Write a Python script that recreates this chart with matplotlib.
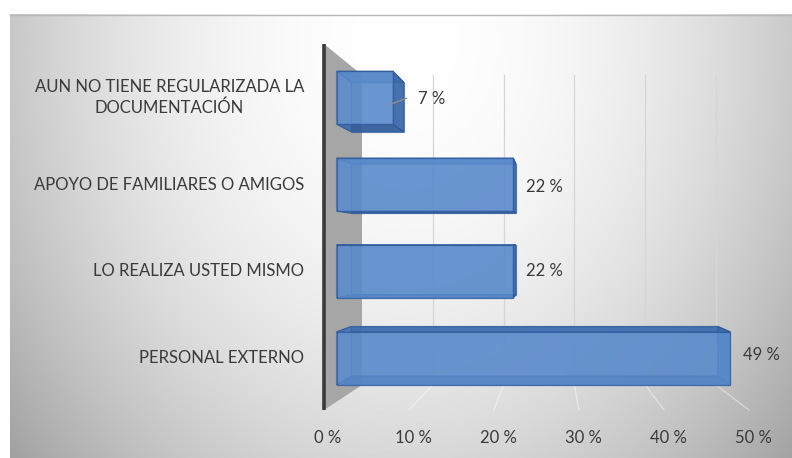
import numpy as np
import matplotlib.pyplot as plt
from matplotlib.patches import Polygon

# datos
categorias = [
    "AUN NO TIENE REGULARIZADA LA\nDOCUMENTACIÓN",
    "APOYO DE FAMILIARES O AMIGOS",
    "LO REALIZA USTED MISMO",
    "PERSONAL EXTERNO",
]
valores = [7, 22, 22, 49]
ticks = [0, 10, 20, 30, 40, 50]
tick_labels = ["0 %", "10 %", "20 %", "30 %", "40 %", "50 %"]

# marco en perspectiva (pixeles): frente z=0, fondo z=1
X_FRENTE, X_FONDO = 324, 362
ESC_FRENTE, ESC_FONDO = 8.5, 7.08
SUP_FRENTE, SUP_FONDO = 44, 75
INF_FRENTE, INF_FONDO = 410, 385
Z_BARRA = (0.33, 0.72)
MEDIA_ALTURA = 0.076

TXT = "#3a3a3a"
FUENTE = "Lato"
TAM = 12


def proyectar(x, t, z):
    x0 = X_FRENTE + (X_FONDO - X_FRENTE) * z
    esc = ESC_FRENTE + (ESC_FONDO - ESC_FRENTE) * z
    sup = SUP_FRENTE + (SUP_FONDO - SUP_FRENTE) * z
    inf = INF_FRENTE + (INF_FONDO - INF_FRENTE) * z
    return x0 + x * esc, sup + t * (inf - sup)


fig = plt.figure(figsize=(7.92, 4.58), dpi=100)
ax = fig.add_axes([0, 0, 1, 1])
ax.set_xlim(0, 792)
ax.set_ylim(458, 0)
ax.axis("off")

# fondo con degradado radial
xx, yy = np.meshgrid(np.linspace(10, 792, 400), np.linspace(14, 458, 240))
r2 = ((xx - 405) / 400) ** 2 + ((yy - 40) / 500) ** 2
gris = np.clip(1 - 0.22 * r2, 0, 1)
ax.imshow(np.dstack([gris] * 3), extent=(10, 792, 458, 14), aspect="auto", zorder=0)
ax.plot([10, 792], [14.5, 14.5], color="#b8b8b8", lw=1, zorder=1)

# pared lateral
pared = [proyectar(0, 0, 0), proyectar(0, 0, 1), proyectar(0, 1, 1), proyectar(0, 1, 0)]
ax.add_patch(Polygon(pared, closed=True, fc="#a6a6a6", ec="none", zorder=1))

# lineas de division
for tk in ticks[1:]:
    x1, y1 = proyectar(tk, 0, 1)
    x2, y2 = proyectar(tk, 1, 1)
    ax.plot([x1, x2], [y1, y2], color="#d6d6d6", lw=0.9, zorder=1)
    x3, y3 = proyectar(tk, 1, 0)
    ax.plot([x2, x3], [y2, y3], color="white", lw=0.9, alpha=0.45, zorder=1)

# eje vertical
xa, ya = proyectar(0, 0, 0)
xb, yb = proyectar(0, 1, 0)
ax.plot([xa, xb], [ya, yb], color="#3a3a3a", lw=2.6, solid_capstyle="butt", zorder=2)

# barras 3D
n = len(valores)
z0, z1 = Z_BARRA
for i, (cat, v) in enumerate(zip(categorias, valores)):
    tc = (i + 0.5) / n
    t0, t1 = tc - MEDIA_ALTURA, tc + MEDIA_ALTURA
    caras = [
        ([(0, t0, z1), (v, t0, z1), (v, t1, z1), (0, t1, z1)], "#3d6cae", 0.55),
        ([(0, t1, z0), (v, t1, z0), (v, t1, z1), (0, t1, z1)], "#2f5a98", 0.85),
        ([(0, t0, z0), (v, t0, z0), (v, t0, z1), (0, t0, z1)], "#3f6db0", 0.85),
        ([(0, t0, z0), (0, t0, z1), (0, t1, z1), (0, t1, z0)], "#4a7bbd", 0.5),
        ([(v, t0, z0), (v, t0, z1), (v, t1, z1), (v, t1, z0)], "#3b68a8", 0.85),
        ([(0, t0, z0), (v, t0, z0), (v, t1, z0), (0, t1, z0)], "#5e8fd0", 0.78),
    ]
    for pts, color, alfa in caras:
        poli = [proyectar(*p) for p in pts]
        ax.add_patch(Polygon(poli, closed=True, fc=color, alpha=alfa,
                             ec="#2f5b9c", lw=0.9, zorder=3))

    # etiqueta de categoria
    _, yc = proyectar(0, tc, z0)
    ax.text(304, yc, cat, ha="right", va="center", multialignment="center",
            fontsize=TAM, color=TXT, family=FUENTE, linespacing=1.3, zorder=5)

    # etiqueta de valor
    xr, yr = proyectar(v, tc, (z0 + z1) / 2)
    if v < 10:
        # etiqueta desplazada con linea guia
        ax.plot([xr - 8, xr + 8], [yr + 2, yr - 4], color="#8c8c8c", lw=1, zorder=5)
        ax.text(xr + 20, yr - 3, f"{v} %", ha="left", va="center",
                fontsize=TAM, color=TXT, family=FUENTE, zorder=5)
    else:
        xf, _ = proyectar(v, tc, z0)
        ax.text(xf + 13, yr, f"{v} %", ha="left", va="center",
                fontsize=TAM, color=TXT, family=FUENTE, zorder=5)

# etiquetas del eje x
for tk, lab in zip(ticks, tick_labels):
    x, y = proyectar(tk, 1, 0)
    ax.text(x + 4, y + 28, lab, ha="center", va="center",
            fontsize=TAM, color=TXT, family=FUENTE, zorder=5)

fig.savefig("out.png", dpi=100)
